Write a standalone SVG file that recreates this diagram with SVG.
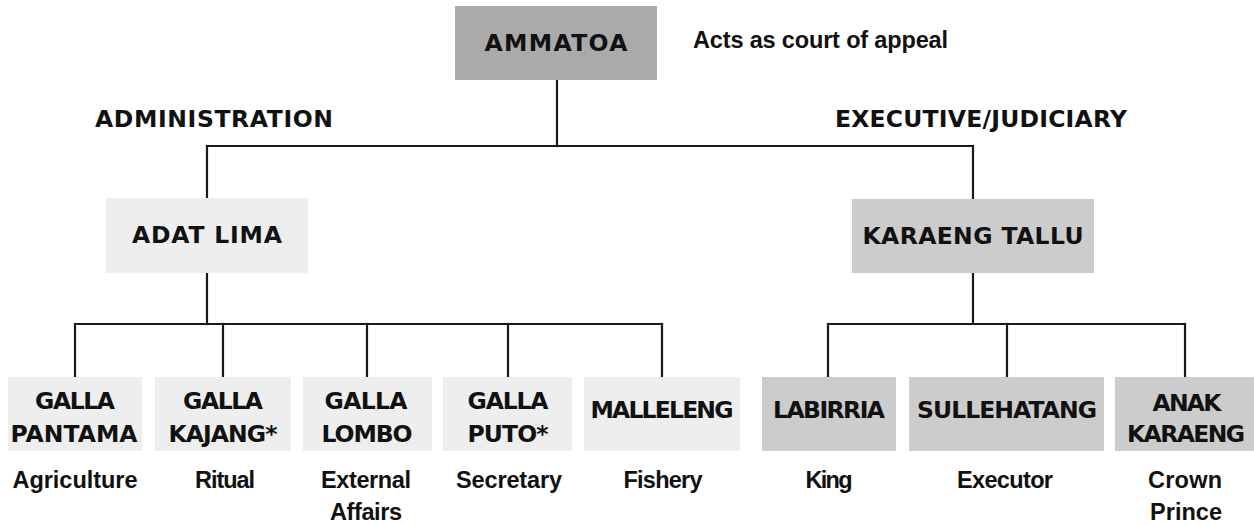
<svg xmlns="http://www.w3.org/2000/svg" width="1254" height="525" viewBox="0 0 1254 525">
<style>
text{font-family:"DejaVu Sans","Liberation Sans",sans-serif;font-weight:bold;font-size:23.5px;fill:#111;text-anchor:middle}
.d{font-family:"Liberation Sans",Arial,sans-serif;font-size:23.5px}
.l{text-anchor:start}
.top{fill:#aaaaaa}
.light{fill:#eeeeee}
.mid{fill:#cccccc}
.con line{stroke:#1a1a1a;stroke-width:2.2;stroke-linecap:square}
</style>
<rect width="1254" height="525" fill="#ffffff"/>
<g class="con">
<line x1="557" y1="80" x2="557" y2="146"/>
<line x1="207" y1="146" x2="973" y2="146"/>
<line x1="207" y1="146" x2="207" y2="198"/>
<line x1="973" y1="146" x2="973" y2="199"/>
<line x1="207" y1="273" x2="207" y2="324"/>
<line x1="75" y1="324" x2="662" y2="324"/>
<line x1="75" y1="324" x2="75" y2="377"/>
<line x1="223" y1="324" x2="223" y2="377"/>
<line x1="367" y1="324" x2="367" y2="377"/>
<line x1="508" y1="324" x2="508" y2="377"/>
<line x1="662" y1="324" x2="662" y2="377"/>
<line x1="973" y1="273" x2="973" y2="324"/>
<line x1="828" y1="324" x2="1185" y2="324"/>
<line x1="828" y1="324" x2="828" y2="377"/>
<line x1="1007" y1="324" x2="1007" y2="377"/>
<line x1="1185" y1="324" x2="1185" y2="377"/>
</g>
<g id="ammatoa">
<rect class="top" x="455" y="6" width="202" height="74"/>
<text x="556" y="51" textLength="143">AMMATOA</text>
</g>
<g id="note">
<text class="d l" x="693" y="48" font-size="24" textLength="255">Acts as court of appeal</text>
</g>
<g id="administration">
<text class="l" x="95" y="127" textLength="238">ADMINISTRATION</text>
</g>
<g id="executive">
<text class="l" x="835" y="127" textLength="292">EXECUTIVE/JUDICIARY</text>
</g>
<g id="adat-lima">
<rect class="light" x="106" y="198" width="202" height="75"/>
<text x="207" y="243" textLength="150">ADAT LIMA</text>
</g>
<g id="karaeng-tallu">
<rect class="mid" x="852" y="199" width="242" height="74"/>
<text x="973" y="244" textLength="221">KARAENG TALLU</text>
</g>
<g id="galla-pantama">
<rect class="light" x="8" y="377" width="134" height="74"/>
<text x="75" y="409" textLength="80">GALLA</text>
<text x="74" y="442" textLength="127">PANTAMA</text>
<text class="d" x="75" y="488" textLength="125">Agriculture</text>
</g>
<g id="galla-kajang">
<rect class="light" x="155" y="377" width="136" height="74"/>
<text x="223" y="409" textLength="80">GALLA</text>
<text x="223" y="442" textLength="109">KAJANG*</text>
<text class="d" x="225" y="488" textLength="60">Ritual</text>
</g>
<g id="galla-lombo">
<rect class="light" x="303" y="377" width="129" height="74"/>
<text x="366" y="409" textLength="83">GALLA</text>
<text x="367" y="442" textLength="91">LOMBO</text>
<text class="d" x="366" y="488" textLength="90">External</text>
<text class="d" x="366" y="520" textLength="72">Affairs</text>
</g>
<g id="galla-puto">
<rect class="light" x="443" y="377" width="129" height="74"/>
<text x="508" y="409" textLength="81">GALLA</text>
<text x="508" y="442" textLength="81">PUTO*</text>
<text class="d" x="509" y="488" textLength="106">Secretary</text>
</g>
<g id="malleleng">
<rect class="light" x="584" y="377" width="156" height="74"/>
<text x="662" y="418" textLength="143">MALLELENG</text>
<text class="d" x="663" y="488" textLength="79">Fishery</text>
</g>
<g id="labirria">
<rect class="mid" x="762" y="377" width="134" height="74"/>
<text x="829" y="418" textLength="112">LABIRRIA</text>
<text class="d" x="829" y="488" textLength="47">King</text>
</g>
<g id="sullehatang">
<rect class="mid" x="909" y="377" width="195" height="74"/>
<text x="1007" y="418" textLength="180">SULLEHATANG</text>
<text class="d" x="1005" y="488" textLength="96">Executor</text>
</g>
<g id="anak-karaeng">
<rect class="mid" x="1115" y="377" width="139" height="74"/>
<text x="1187" y="411" textLength="69">ANAK</text>
<text x="1186" y="442" textLength="118">KARAENG</text>
<text class="d" x="1185" y="488" textLength="74">Crown</text>
<text class="d" x="1186" y="520" textLength="72">Prince</text>
</g>
</svg>
